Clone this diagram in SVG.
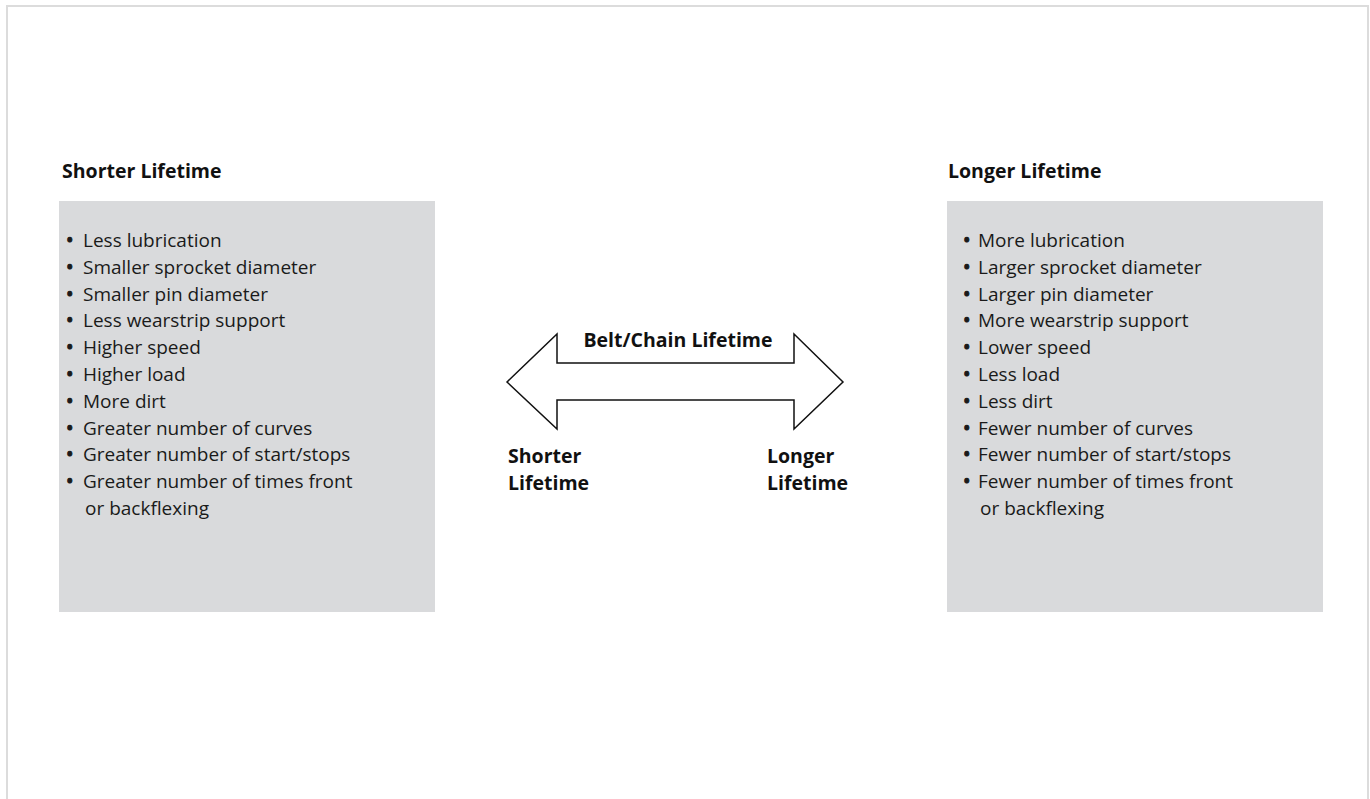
<svg xmlns="http://www.w3.org/2000/svg" width="1370" height="799" viewBox="0 0 1370 799">
<style>
.title{font-family:"Open Sans","Liberation Sans",sans-serif;font-weight:bold;font-size:19.5px;fill:#111}
.item{font-family:"Open Sans","Liberation Sans",sans-serif;font-size:19px;fill:#1a1a1a}
.bul{font-family:"Open Sans","Liberation Sans",sans-serif;font-size:20px;fill:#1a1a1a;stroke:#1a1a1a;stroke-width:1}
.lbl{font-family:"Open Sans","Liberation Sans",sans-serif;font-weight:bold;font-size:19.5px;fill:#111}
.box{fill:#d9dadc}
</style>
<rect x="7" y="6" width="1361" height="820" fill="#fff" stroke="#dcdcdc" stroke-width="2"/>
<g id="shorter">
<text class="title" x="62" y="178">Shorter Lifetime</text>
<rect class="box" x="59" y="201" width="376" height="411"/>
<text class="bul">
<tspan x="66" y="247">•</tspan>
<tspan x="66" y="273.8">•</tspan>
<tspan x="66" y="300.6">•</tspan>
<tspan x="66" y="327.4">•</tspan>
<tspan x="66" y="354.2">•</tspan>
<tspan x="66" y="381">•</tspan>
<tspan x="66" y="407.8">•</tspan>
<tspan x="66" y="434.6">•</tspan>
<tspan x="66" y="461.4">•</tspan>
<tspan x="66" y="488.2">•</tspan>
</text>
<text class="item">
<tspan x="83" y="247">Less lubrication</tspan>
<tspan x="83" y="273.8">Smaller sprocket diameter</tspan>
<tspan x="83" y="300.6">Smaller pin diameter</tspan>
<tspan x="83" y="327.4">Less wearstrip support</tspan>
<tspan x="83" y="354.2">Higher speed</tspan>
<tspan x="83" y="381">Higher load</tspan>
<tspan x="83" y="407.8">More dirt</tspan>
<tspan x="83" y="434.6">Greater number of curves</tspan>
<tspan x="83" y="461.4">Greater number of start/stops</tspan>
<tspan x="83" y="488.2">Greater number of times front</tspan>
<tspan x="85" y="515">or backflexing</tspan>
</text>
</g>
<g id="longer">
<text class="title" x="948" y="178">Longer Lifetime</text>
<rect class="box" x="947" y="201" width="376" height="411"/>
<text class="bul">
<tspan x="963" y="247">•</tspan>
<tspan x="963" y="273.8">•</tspan>
<tspan x="963" y="300.6">•</tspan>
<tspan x="963" y="327.4">•</tspan>
<tspan x="963" y="354.2">•</tspan>
<tspan x="963" y="381">•</tspan>
<tspan x="963" y="407.8">•</tspan>
<tspan x="963" y="434.6">•</tspan>
<tspan x="963" y="461.4">•</tspan>
<tspan x="963" y="488.2">•</tspan>
</text>
<text class="item">
<tspan x="978" y="247">More lubrication</tspan>
<tspan x="978" y="273.8">Larger sprocket diameter</tspan>
<tspan x="978" y="300.6">Larger pin diameter</tspan>
<tspan x="978" y="327.4">More wearstrip support</tspan>
<tspan x="978" y="354.2">Lower speed</tspan>
<tspan x="978" y="381">Less load</tspan>
<tspan x="978" y="407.8">Less dirt</tspan>
<tspan x="978" y="434.6">Fewer number of curves</tspan>
<tspan x="978" y="461.4">Fewer number of start/stops</tspan>
<tspan x="978" y="488.2">Fewer number of times front</tspan>
<tspan x="980" y="515">or backflexing</tspan>
</text>
</g>
<g id="connectors">
<polygon points="507,382 557,334 557,363 794,363 794,334 843,382 794,429 794,400 557,400 557,429" fill="#fff" stroke="#111" stroke-width="1.5" stroke-linejoin="miter"/>
</g>
<g id="labels">
<text class="lbl" x="678" y="347" text-anchor="middle">Belt/Chain Lifetime</text>
<text class="lbl"><tspan x="508" y="463">Shorter</tspan><tspan x="508" y="490">Lifetime</tspan></text>
<text class="lbl"><tspan x="767" y="463">Longer</tspan><tspan x="767" y="490">Lifetime</tspan></text>
</g>
</svg>
